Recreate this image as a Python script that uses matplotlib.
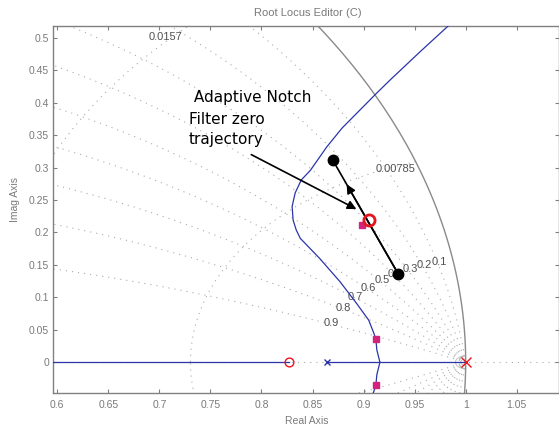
import numpy as np
import matplotlib
matplotlib.use("Agg")
import matplotlib.pyplot as plt

# ---------------- data ----------------
x_ticks = [0.6, 0.65, 0.7, 0.75, 0.8, 0.85, 0.9, 0.95, 1.0, 1.05]
x_tick_labels = ["0.6", "0.65", "0.7", "0.75", "0.8", "0.85", "0.9", "0.95", "1", "1.05"]
y_ticks = [0, 0.05, 0.1, 0.15, 0.2, 0.25, 0.3, 0.35, 0.4, 0.45, 0.5]
y_tick_labels = ["0", "0.05", "0.1", "0.15", "0.2", "0.25", "0.3", "0.35", "0.4", "0.45", "0.5"]

damping_ratios = [0.1, 0.2, 0.3, 0.4, 0.5, 0.6, 0.7, 0.8, 0.9]
damping_labels = ["0.1", "0.2", "0.3", "0.4", "0.5", "0.6", "0.7", "0.8", "0.9"]
damping_label_wT = 0.157          # normalized freq where damping labels sit
wnT_values = [0.1 * np.pi * k for k in range(1, 10)]   # constant-wn grid (wn*Ts)
wn_labels = ["0.00785", "0.0157"]
small_wnT = [0.005, 0.010]

# root locus branch (upper half, mirrored below)
locus_x = [0.916, 0.913, 0.912, 0.910, 0.905, 0.893, 0.877, 0.857, 0.838, 0.834,
           0.831, 0.830, 0.833, 0.839, 0.848, 0.864, 0.879, 0.913, 0.926, 0.955, 0.982, 0.990]
locus_y = [0.000, 0.019, 0.036, 0.045, 0.065, 0.091, 0.124, 0.160, 0.191, 0.204,
           0.219, 0.240, 0.261, 0.281, 0.296, 0.332, 0.361, 0.415, 0.435, 0.478, 0.517, 0.528]
real_axis_locus = [(0.0, 0.827), (0.864, 1.0)]

comp_zero_x, comp_zero_y = 0.827, 0.0
comp_pole_x, comp_pole_y = 1.0, 0.0
plant_pole_x, plant_pole_y = 0.864, 0.0
notch_zero_x, notch_zero_y = 0.905, 0.219
cl_poles_x = [0.898, 0.912, 0.912]
cl_poles_y = [0.212, 0.036, -0.035]
anf_x = [0.934, 0.870]
anf_y = [0.136, 0.311]
pointer_tail = (0.790, 0.320)
pointer_tip = (0.893, 0.236)
annot_lines = [" Adaptive Notch", "Filter zero", "trajectory"]

# ---------------- figure ----------------
W, H = 559, 428
fig = plt.figure(figsize=(W / 100, H / 100), dpi=100)
left_px, right_px, top_px, bot_px = 53.3, 559, 26.5, 393.3
ax = fig.add_axes([left_px / W, 1 - bot_px / H, (right_px - left_px) / W, (bot_px - top_px) / H])
ax.set_xlim(0.5961, 1.0914)
ax.set_ylim(-0.0478, 0.5174)

grid_c = "#ababab"
dot_ls = (0, (1, 4.5))

# real axis dotted
ax.axhline(0, color=grid_c, lw=0.8, ls=dot_ls, zorder=1)

# constant damping spirals
for z in damping_ratios:
    wd = np.sqrt(1 - z ** 2)
    w = np.linspace(0, np.pi / wd, 800)
    s = np.exp(w * (-z + 1j * wd))
    ax.plot(s.real, s.imag, color=grid_c, lw=0.8, ls=dot_ls, zorder=1)
    ax.plot(s.real, -s.imag, color=grid_c, lw=0.8, ls=dot_ls, zorder=1)

# constant natural frequency curves
zz = np.linspace(0, 1, 400)
for th in wnT_values:
    s = np.exp(th * (-zz + 1j * np.sqrt(1 - zz ** 2)))
    ax.plot(s.real, s.imag, color=grid_c, lw=0.8, ls=dot_ls, zorder=1)
    ax.plot(s.real, -s.imag, color=grid_c, lw=0.8, ls=dot_ls, zorder=1)
for th in small_wnT:
    s = np.exp(th * (-zz + 1j * np.sqrt(1 - zz ** 2)))
    ax.plot(s.real, s.imag, color="#b8b8b8", lw=0.6, zorder=1)
    ax.plot(s.real, -s.imag, color="#b8b8b8", lw=0.6, zorder=1)

# unit circle
t = np.linspace(0, 2 * np.pi, 1000)
ax.plot(np.cos(t), np.sin(t), color="#8a8a8a", lw=1.0, zorder=2)

# damping labels
lab_c = "#505050"
for z, lab in zip(damping_ratios, damping_labels):
    wd = np.sqrt(1 - z ** 2)
    p = np.exp(damping_label_wT * (-z + 1j * wd))
    ax.text(p.real + 0.002, p.imag + 0.001, lab, fontsize=8, color=lab_c,
            ha="center", va="center", family="Liberation Sans", zorder=3)

# wn labels
p1 = np.exp(wnT_values[0] * 1j)
ax.text(p1.real, p1.imag - 0.004, wn_labels[0], fontsize=8, color=lab_c,
        ha="right", va="top", family="Liberation Sans", zorder=3)
s2 = np.exp(wnT_values[1] * (-zz + 1j * np.sqrt(1 - zz ** 2)))
idx = np.argmin(np.abs(s2.imag - 0.5))
ax.text(s2.real[idx] - 0.005, 0.501, wn_labels[1], fontsize=8, color=lab_c,
        ha="center", va="center", family="Liberation Sans", zorder=3)

# root locus
loc_c = "#2b35a8"
lx = np.array(locus_x)
ly = np.array(locus_y)
ax.plot(lx, ly, color=loc_c, lw=0.9, zorder=4)
ax.plot(lx, -ly, color=loc_c, lw=0.9, zorder=4)
for a, b in real_axis_locus:
    ax.plot([a, b], [0, 0], color=loc_c, lw=0.9, zorder=4)

# markers
ax.plot(plant_pole_x, plant_pole_y, marker="x", color=loc_c, ms=4.5, mew=1.0, zorder=6)
ax.plot(comp_zero_x, comp_zero_y, marker="o", mfc="none", mec="#e8141c", ms=6.3, mew=1.0, zorder=6)
ax.plot(comp_pole_x, comp_pole_y, marker="x", color="#e8141c", ms=7.2, mew=1.0, zorder=6)
ax.plot(cl_poles_x, cl_poles_y, ls="none", marker="s", color="#d4237a", ms=5, zorder=6)

# adaptive notch filter trajectory
ax.plot(anf_x, anf_y, color="black", lw=1.2, zorder=7)
ax.plot(anf_x, anf_y, ls="none", marker="o", color="black", ms=7.5, zorder=8)
frac = 0.79
mid = (anf_x[0] + frac * (anf_x[1] - anf_x[0]), anf_y[0] + frac * (anf_y[1] - anf_y[0]))
ax.annotate("", xy=mid, xytext=(anf_x[0], anf_y[0]),
            arrowprops=dict(arrowstyle="-|>", color="black", lw=1.2,
                            mutation_scale=13, shrinkA=0, shrinkB=0), zorder=7)
ax.plot(notch_zero_x, notch_zero_y, marker="o", mfc="none", mec="#e8141c", ms=8, mew=2.0, zorder=9)

ax.annotate("", xy=pointer_tip, xytext=pointer_tail,
            arrowprops=dict(arrowstyle="-|>", color="black", lw=1.2,
                            mutation_scale=13, shrinkA=0, shrinkB=0), zorder=7)

text_x = 0.729
text_y = [0.4003, 0.367, 0.336]
for s, yy in zip(annot_lines, text_y):
    ax.text(text_x, yy, s, fontsize=11, color="black", ha="left", va="baseline",
            family="DejaVu Sans", zorder=10)

# axes styling
spine_c = "#808080"
for sp in ax.spines.values():
    sp.set_color(spine_c)
    sp.set_linewidth(1.0)
ax.set_xticks(x_ticks)
ax.set_xticklabels(x_tick_labels)
ax.set_yticks(y_ticks)
ax.set_yticklabels(y_tick_labels)
ax.tick_params(direction="in", length=3, width=0.8, color=spine_c, labelcolor="#7a7a7a",
               labelsize=7.5, top=True, right=True)
ax.tick_params(axis="x", pad=4.5)
ax.tick_params(axis="y", pad=3)
for lab in ax.get_xticklabels() + ax.get_yticklabels():
    lab.set_family("Liberation Sans")

fig.text(308 / W, 1 - 13 / H, "Root Locus Editor (C)", ha="center", va="center",
         fontsize=8, color="#7a7a7a", family="Liberation Sans")
fig.text(307 / W, 1 - 421 / H, "Real Axis", ha="center", va="center",
         fontsize=7.5, color="#7a7a7a", family="Liberation Sans")
fig.text(15 / W, 1 - 199 / H, "Imag Axis", ha="center", va="center", rotation=90,
         fontsize=7.5, color="#7a7a7a", family="Liberation Sans")

fig.savefig("out.png", dpi=100)
